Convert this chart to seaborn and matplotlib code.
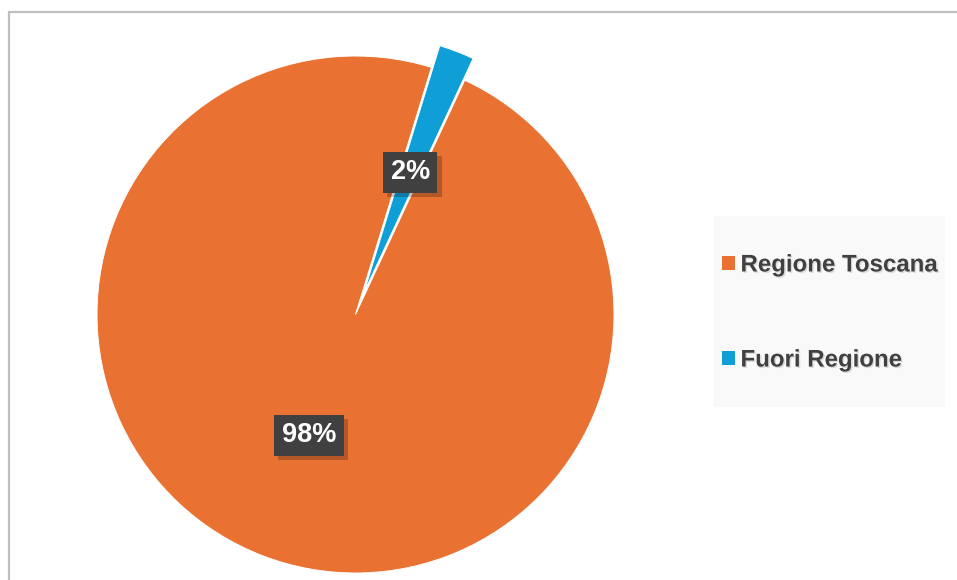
import matplotlib
matplotlib.use("Agg")
import matplotlib.pyplot as plt
import matplotlib.patheffects as pe
from matplotlib.patches import Rectangle, Patch
import seaborn as sns

# data
categories = ["Regione Toscana", "Fuori Regione"]
shares = [97.8, 2.2]
slice_colors = ["#E97132", "#0F9ED5"]


def plot_pie():
    """Pie with exploded small slice and legend box on the right"""
    sns.set_theme(style="white")
    plt.rcParams["font.family"] = ["Liberation Sans", "DejaVu Sans"]

    fig = plt.figure(figsize=(9.57, 5.80), dpi=100)
    fig.patch.set_facecolor("white")

    # outer chart border (only top and left visible in the crop)
    fig.patches.append(Rectangle((8.5 / 957, -0.2), 2, 1.2 - 12 / 580, transform=fig.transFigure,
                                 facecolor="none", edgecolor="#BFBFBF", lw=1.6, zorder=0))
    # legend background
    fig.patches.append(Rectangle((714 / 957, 1 - 407 / 580), 231 / 957, 191 / 580,
                                 transform=fig.transFigure, facecolor="#F9F9F9",
                                 edgecolor="none", zorder=0))

    ax = fig.add_axes([97 / 957, 7 / 580, 517 / 957, 517 / 580])
    wedges, texts, autotexts = ax.pie(
        shares, colors=slice_colors, startangle=65, counterclock=False,
        explode=[0, 0.09], autopct="%.0f%%", pctdistance=0.5,
        wedgeprops={"edgecolor": "white", "linewidth": 0.7, "clip_on": False},
        textprops={"color": "white", "fontsize": 19.5, "fontweight": "bold"},
    )
    ax.set_xlim(-1, 1)
    ax.set_ylim(-1, 1)
    ax.set_axis_off()

    for t in autotexts:
        t.set_bbox(dict(boxstyle="square,pad=0.28", facecolor="#404040", edgecolor="none"))
        t.get_bbox_patch().set_path_effects([
            pe.withSimplePatchShadow(offset=(3, -3), shadow_rgbFace="black", alpha=0.22)])
        t.set_zorder(5)

    handles = [Patch(facecolor=c, edgecolor="none") for c in slice_colors]
    leg = fig.legend(handles, categories, loc="center left",
                     bbox_to_anchor=(722 / 957, 1 - 312.5 / 580),
                     frameon=False, borderpad=0, borderaxespad=0,
                     handlelength=0.55, handleheight=0.55, handletextpad=0.22,
                     labelspacing=3.0, prop={"size": 17.3, "weight": "bold"})
    for t in leg.get_texts():
        t.set_color("#404040")
        t.set_path_effects([pe.withSimplePatchShadow(offset=(1, -1), shadow_rgbFace="black", alpha=0.12)])

    fig.savefig("out.png", dpi=100)


if __name__ == "__main__":
    plot_pie()
